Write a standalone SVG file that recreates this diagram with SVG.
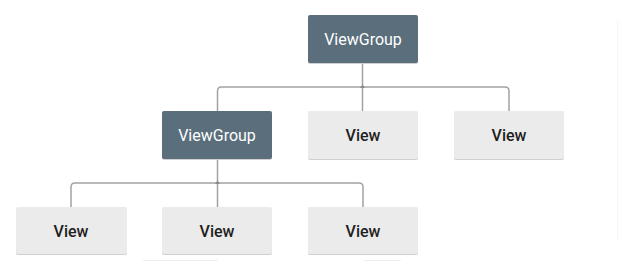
<svg xmlns="http://www.w3.org/2000/svg" width="620" height="262" viewBox="0 0 620 262">
<style>
.vg rect.b{fill:#5a6e7b}
.v rect.b{fill:#ebebeb}
.sh{fill:#d0d0d0}
.vg text{fill:#ffffff;font-family:Roboto,"Liberation Sans",sans-serif;font-size:16px;text-anchor:middle}
.v text{fill:#1e1e1e;font-family:Roboto,"Liberation Sans",sans-serif;font-size:16px;font-weight:500;text-anchor:middle}
.c path{fill:none;stroke:#a3a3a3;stroke-width:1.5}
.c polygon{fill:#8c8c8c}
.faint{stroke:#eeeeee;stroke-width:1;fill:none}
.faint2{stroke:#f6f6f6;stroke-width:1;fill:none}
</style>
<rect width="620" height="262" fill="#ffffff"/>
<g id="connectors" class="c">
<path d="M362.5 63 V111"/>
<path d="M362.5 87 H221.5 Q217.5 87 217.5 91 V111"/>
<path d="M362.5 87 H505 Q509 87 509 91 V111"/>
<path d="M217.5 159 V207"/>
<path d="M217.5 183 H75 Q71 183 71 187 V207"/>
<path d="M217.5 183 H359 Q363 183 363 187 V207"/>
<polygon points="362.5,84.5 360,88 365,88"/>
<polygon points="217.5,180.5 215,184 220,184"/>
</g>
<g id="n1" class="vg"><rect class="sh" x="308" y="16" width="110" height="48" rx="2"/><rect class="b" x="308" y="15" width="110" height="48" rx="2"/><text x="363" y="44.5">ViewGroup</text></g>
<g id="n2" class="vg"><rect class="sh" x="162" y="112" width="110" height="48" rx="2"/><rect class="b" x="162" y="111" width="110" height="48" rx="2"/><text x="217" y="140.5">ViewGroup</text></g>
<g id="n3" class="v"><rect class="sh" x="308" y="112" width="110" height="48" rx="2"/><rect class="b" x="308" y="111" width="110" height="48" rx="2"/><text x="363" y="140.5">View</text></g>
<g id="n4" class="v"><rect class="sh" x="454" y="112" width="110" height="48" rx="2"/><rect class="b" x="454" y="111" width="110" height="48" rx="2"/><text x="509" y="140.5">View</text></g>
<g id="n5" class="v"><rect class="sh" x="16" y="208" width="111" height="47" rx="2"/><rect class="b" x="16" y="207" width="111" height="47" rx="2"/><text x="71" y="236.5">View</text></g>
<g id="n6" class="v"><rect class="sh" x="162" y="208" width="110" height="47" rx="2"/><rect class="b" x="162" y="207" width="110" height="47" rx="2"/><text x="217" y="236.5">View</text></g>
<g id="n7" class="v"><rect class="sh" x="308" y="208" width="110" height="47" rx="2"/><rect class="b" x="308" y="207" width="110" height="47" rx="2"/><text x="363" y="236.5">View</text></g>
<path class="faint" d="M143 260.5 H218 M364 260.5 H401"/>
<path class="faint2" d="M617.5 20 V240"/>
</svg>
